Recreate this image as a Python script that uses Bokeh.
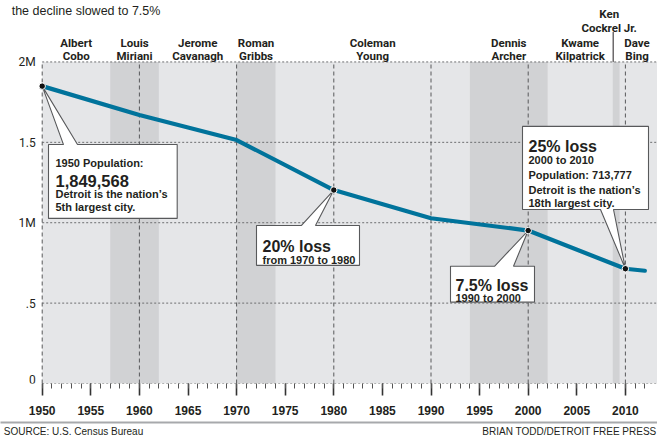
from bokeh.plotting import figure
from bokeh.models import Range1d, FixedTicker, LinearAxis, ColumnDataSource
from bokeh.core.properties import value
from bokeh.embed import file_html
from bokeh.resources import INLINE

# ---------------- data ----------------
years = [1950, 1960, 1970, 1980, 1990, 2000, 2010, 2012]
population = [1849568, 1670144, 1514063, 1203339, 1027974, 951270, 713777, 701475]
marked_years = [1950, 1980, 2000, 2010]

mayor_first = ["Albert", "Louis", "Jerome", "Roman", "Coleman", "Dennis", "Kwame", "Ken", "Dave"]
mayor_last = ["Cobo", "Miriani", "Cavanagh", "Gribbs", "Young", "Archer", "Kilpatrick", "Cockrel Jr.", "Bing"]
term_start = [1950, 1957, 1962, 1970, 1974, 1994, 2002, 2008.7, 2009.4]
term_end = [1957, 1962, 1970, 1974, 1994, 2002, 2008.7, 2009.4, 2013]
term_shaded = [False, True, False, True, False, True, False, True, False]

y_ticks = [0, 500000, 1000000, 1500000, 2000000]
y_tick_labels = ["0", ".5", "1M", "1.5", "2M"]
x_major_ticks = list(range(1950, 2011, 5))
x_minor_ticks = list(range(1950, 2013))
decade_lines = list(range(1950, 2011, 10))

title_text = "the decline slowed to 7.5%"
source_text = "SOURCE: U.S. Census Bureau"
credit_text = "BRIAN TODD/DETROIT FREE PRESS"

# ---------------- geometry / styles ----------------
W, H = 657, 439
BOTTOM = 55
FRAME_W = W
FRAME_H = H - BOTTOM
PX_PER_YEAR = 9.72
PX_PER_UNIT = 161.2 / 1e6
X0 = 1950 - 41.7 / PX_PER_YEAR
X1 = X0 + FRAME_W / PX_PER_YEAR
Y1 = FRAME_H / PX_PER_UNIT
YMAX = y_ticks[-1]


def dx(px):
    return px / PX_PER_YEAR


def dy(px):
    return px / PX_PER_UNIT


INK = "#231f20"
LIGHT = "#e5e6e8"
DARK = "#d1d2d4"
TEAL = "#00739b"
BORDER = "#58595b"
COND = value("Roboto")
SANS = value("Liberation Sans")

p = figure(width=W, height=H, output_backend="svg", toolbar_location=None,
           x_range=Range1d(X0, X1), y_range=Range1d(0, Y1),
           min_border_left=0, min_border_right=0, min_border_top=0,
           min_border_bottom=BOTTOM, y_axis_location=None)
p.outline_line_color = None
p.background_fill_color = "white"
p.border_fill_color = "white"
p.xgrid.visible = False
p.ygrid.visible = False

# background panels
bg = p.quad(left=[years[0]], right=[X1], bottom=[0], top=[YMAX],
            fill_color=LIGHT, line_color=None)
bg.level = "image"
sh_l = [s for s, f in zip(term_start, term_shaded) if f]
sh_r = [e for e, f in zip(term_end, term_shaded) if f]
bands = p.quad(left=sh_l, right=sh_r, bottom=0, top=YMAX, fill_color=DARK, line_color=None)
bands.level = "image"

# horizontal dotted grid lines
p.segment(x0=[years[0]] * len(y_ticks), x1=[X1] * len(y_ticks), y0=y_ticks, y1=y_ticks,
          line_color="#6d6e70", line_width=1, line_dash="2 2")
# vertical dashed decade lines
p.segment(x0=decade_lines, x1=decade_lines, y0=[0] * len(decade_lines),
          y1=[YMAX] * len(decade_lines), line_color=BORDER, line_width=1, line_dash="4 3")

# y tick labels (value axis on the left); the baseline label sits just above the frame edge
lab_x = years[0] - dx(6.5)
p.text(x=[lab_x] * (len(y_ticks) - 1), y=y_ticks[1:], text=y_tick_labels[1:],
       text_font=COND, text_font_size="12px", text_color=INK,
       text_align="right", text_baseline="middle")
p.text(x=[lab_x], y=[y_ticks[0]], text=[y_tick_labels[0]],
       text_font=COND, text_font_size="12px", text_color=INK,
       text_align="right", text_baseline="bottom")

# population line
p.line(years, population, line_color=TEAL, line_width=4.2, line_cap="round", line_join="round")

# callouts: anchor year, box (left, right, top, bottom) px offsets (screen, down +), pointer base, side
pop = dict(zip(years, population))
callouts = [
    (1950, (6.3, 135.0, 58.6, 132.6), (21.3, 35.3), "top"),
    (1980, (-77.3, 25.7, 35.5, 75.5), (-32.3, -18.3), "top"),
    (2000, (-77.7, 6.3, 35.8, 71.8), (-33.7, -14.7), "top"),
    (2010, (-102.9, 23.1, -142.7, -59.4), (-24.9, -11.9), "bottom"),
]
xs, ys = [], []
for yr, (l, r, t, b), (b1, b2), side in callouts:
    if side == "top":
        pts = [(l, t), (b1, t), (0, 0), (b2, t), (r, t), (r, b), (l, b)]
    else:
        pts = [(l, t), (r, t), (r, b), (b2, b), (0, 0), (b1, b), (l, b)]
    xs.append([yr + dx(px) for px, _ in pts])
    ys.append([pop[yr] - dy(py) for _, py in pts])
p.patches(xs, ys, fill_color="white", line_color=BORDER, line_width=1.1)

callout_text = [
    (1950, 13.3, 76.6, "1950 Population:", "11px"),
    (1950, 13.3, 95.6, "1,849,568", "16.5px"),
    (1950, 13.3, 108.6, "Detroit is the nation\u2019s", "11px"),
    (1950, 13.3, 121.3, "5th largest city.", "11px"),
    (1980, -71.3, 56.5, "20% loss", "16px"),
    (1980, -71.3, 70.5, "from 1970 to 1980", "11px"),
    (2000, -72.7, 54.8, "7.5% loss", "16px"),
    (2000, -72.7, 67.5, "1990 to 2000", "11px"),
    (2010, -96.9, -122.4, "25% loss", "16px"),
    (2010, -96.9, -108.9, "2000 to 2010", "11px"),
    (2010, -96.9, -94.4, "Population: 713,777", "11px"),
    (2010, -96.9, -79.4, "Detroit is the nation\u2019s", "11px"),
    (2010, -96.9, -65.6, "18th largest city.", "11px"),
]
ct = ColumnDataSource(dict(
    x=[yr + dx(a) for yr, a, _, _, _ in callout_text],
    y=[pop[yr] - dy(b) for yr, _, b, _, _ in callout_text],
    text=[t for *_, t, _ in callout_text],
    size=[s for *_, s in callout_text],
))
p.text(x="x", y="y", text="text", source=ct, text_font=SANS, text_font_style="bold",
       text_font_size="size", text_color=INK, text_align="left", text_baseline="alphabetic")

# marked points
mk = [pop[y] for y in marked_years]
p.scatter(marked_years, mk, size=6.5, fill_color="#111111", line_color="white", line_width=1)

# mayor labels
mx, y1s, y2s = [], [], []
for f, s, e in zip(mayor_first, term_start, term_end):
    short = (e - s) < 1
    mx.append((s + e) / 2 - (dx(7) if short else 0))
    y1s.append(YMAX + dy(48.0 if short else 19.0))
    y2s.append(YMAX + dy(34.5 if short else 5.5))
for ys_, txt in ((y1s, mayor_first), (y2s, mayor_last)):
    p.text(x=mx, y=ys_, text=txt, text_font=COND, text_font_style="bold",
           text_font_size="11.5px", text_color=INK, text_align="center",
           text_baseline="alphabetic")
kx = [(s + e) / 2 - dx(3) for s, e in zip(term_start, term_end) if (e - s) < 1]
p.segment(x0=kx, x1=kx, y0=[YMAX] * len(kx), y1=[YMAX + dy(30)] * len(kx),
          line_color=INK, line_width=1)

# title fragment at the very top
p.text(x=[1950 - dx(30.5)], y=[YMAX + dy(51.5)], text=[title_text], text_font=SANS,
       text_font_size="12.5px", text_color=INK, text_align="left", text_baseline="alphabetic")

# year axis
xa = p.xaxis[0]
xa.ticker = FixedTicker(ticks=x_major_ticks, minor_ticks=x_minor_ticks)
xa.axis_line_color = None
xa.major_tick_in = 0
xa.major_tick_out = 12
xa.major_tick_line_width = 1.6
xa.major_tick_line_color = "#333333"
xa.minor_tick_in = 0
xa.minor_tick_out = 5
xa.minor_tick_line_width = 1
xa.minor_tick_line_color = "#555555"
xa.major_label_standoff = 10
xa.major_label_text_font = "Liberation Sans"
xa.major_label_text_font_style = "bold"
xa.major_label_text_font_size = "12px"
xa.major_label_text_color = INK
xa.axis_label = " "
xa.axis_label_text_font_size = "1px"
xa.axis_label_standoff = 1

# footer rule with source and credit (a second, label-only axis)
src_c = round(X0 + dx(3 + 70), 3)
crd_c = round(X0 + dx(656 - 87), 3)
foot = LinearAxis(ticker=FixedTicker(ticks=[src_c, crd_c]),
                  major_label_overrides={src_c: source_text, crd_c: credit_text},
                  axis_line_color="#a7a9ac", axis_line_width=2,
                  major_tick_line_color=None, minor_tick_line_color=None,
                  major_tick_out=0, minor_tick_out=0, major_tick_in=0, minor_tick_in=0,
                  major_label_standoff=3, major_label_text_font="Liberation Sans",
                  major_label_text_font_size="10px", major_label_text_color=INK)
p.add_layout(foot, "below")

open("out.html", "w").write(file_html(p, INLINE))
